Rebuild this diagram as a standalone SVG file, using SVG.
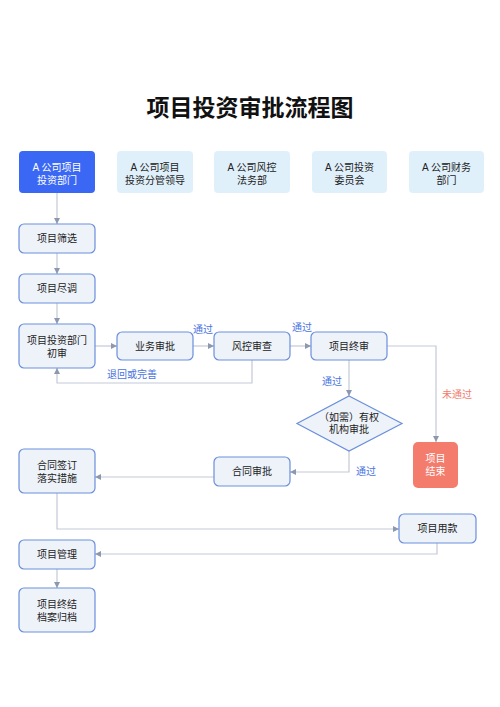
<svg xmlns="http://www.w3.org/2000/svg" width="500" height="707" viewBox="0 0 500 707">
<style>
text{font-family:"Liberation Sans","Noto Sans CJK SC",sans-serif;font-size:10px;fill:#222;text-anchor:middle}
.title{font-size:23px;font-weight:bold;fill:#111}
.node{fill:#eef3fa;stroke:#6b8fdb;stroke-width:1.2}
.hdr{fill:#e0f0fb}
.hdr1{fill:#3a68f5}
.wt{fill:#fff}
.end{fill:#f47c6d}
.lbl{fill:#4a74e0}
.lbl2{fill:#f07d6e}
.c{fill:none;stroke:#c3c9d6;stroke-width:1.2;marker-end:url(#ah)}
</style>
<defs>
<marker id="ah" viewBox="0 0 6 6" refX="6" refY="3" markerWidth="6" markerHeight="6" markerUnits="userSpaceOnUse" orient="auto">
<path d="M0,0 L6,3 L0,6 z" fill="#8d98ae"/>
</marker>
</defs>
<rect width="500" height="707" fill="#fff"/>
<text class="title" x="250" y="116">项目投资审批流程图</text>

<g id="connectors">
<path class="c" d="M57,193 V224"/>
<path class="c" d="M57,253 V274"/>
<path class="c" d="M57,303 V324"/>
<path class="c" d="M95,346 H117"/>
<path class="c" d="M193,346 H214"/>
<path class="c" d="M290,346 H311"/>
<path class="c" d="M252,360 V383 H57 V368"/>
<path class="c" d="M349,360 V396"/>
<path class="c" d="M387,346 H436 V442"/>
<path class="c" d="M349,451 V472 H290"/>
<path class="c" d="M214,477 H95"/>
<path class="c" d="M57,493 V529 H399"/>
<path class="c" d="M437,543 V554 H95"/>
<path class="c" d="M57,569 V588"/>
<text class="lbl" x="203" y="333">通过</text>
<text class="lbl" x="302" y="331">通过</text>
<text class="lbl" x="132" y="378">退回或完善</text>
<text class="lbl" x="332" y="385">通过</text>
<text class="lbl2" x="457" y="398">未通过</text>
<text class="lbl" x="366" y="475">通过</text>
</g>

<g id="h1"><rect class="hdr1" x="19" y="151" width="76" height="42" rx="4"/><text class="wt" x="57" y="171">A 公司项目</text><text class="wt" x="57" y="184">投资部门</text></g>
<g id="h2"><rect class="hdr" x="117" y="151" width="76" height="42" rx="4"/><text x="155" y="171">A 公司项目</text><text x="155" y="184">投资分管领导</text></g>
<g id="h3"><rect class="hdr" x="214" y="151" width="76" height="42" rx="4"/><text x="252" y="171">A 公司风控</text><text x="252" y="184">法务部</text></g>
<g id="h4"><rect class="hdr" x="312" y="151" width="75" height="42" rx="4"/><text x="349.5" y="171">A 公司投资</text><text x="349.5" y="184">委员会</text></g>
<g id="h5"><rect class="hdr" x="409" y="151" width="75" height="42" rx="4"/><text x="446.5" y="171">A 公司财务</text><text x="446.5" y="184">部门</text></g>

<g id="n1"><rect class="node" x="19" y="224" width="76" height="29" rx="5"/><text x="57" y="242">项目筛选</text></g>
<g id="n2"><rect class="node" x="19" y="274" width="76" height="29" rx="5"/><text x="57" y="292">项目尽调</text></g>
<g id="n3"><rect class="node" x="19" y="324" width="76" height="44" rx="5"/><text x="57" y="344">项目投资部门</text><text x="57" y="357">初审</text></g>
<g id="n4"><rect class="node" x="117" y="332" width="76" height="28" rx="5"/><text x="155" y="350">业务审批</text></g>
<g id="n5"><rect class="node" x="214" y="332" width="76" height="28" rx="5"/><text x="252" y="350">风控审查</text></g>
<g id="n6"><rect class="node" x="311" y="332" width="76" height="28" rx="5"/><text x="349" y="350">项目终审</text></g>
<g id="n7"><polygon class="node" points="349,396 402,423.5 349,451 297,423.5"/><text x="349" y="421">（如需）有权</text><text x="349" y="433">机构审批</text></g>
<g id="n8"><rect class="end" x="413" y="442" width="45" height="46" rx="5"/><text class="wt" x="435.5" y="462">项目</text><text class="wt" x="435.5" y="475">结束</text></g>
<g id="n9"><rect class="node" x="214" y="457" width="76" height="29" rx="5"/><text x="252" y="475">合同审批</text></g>
<g id="n10"><rect class="node" x="19" y="449" width="76" height="44" rx="5"/><text x="57" y="469">合同签订</text><text x="57" y="482">落实措施</text></g>
<g id="n11"><rect class="node" x="399" y="514" width="77" height="29" rx="5"/><text x="437.5" y="532">项目用款</text></g>
<g id="n12"><rect class="node" x="19" y="540" width="76" height="29" rx="5"/><text x="57" y="558">项目管理</text></g>
<g id="n13"><rect class="node" x="19" y="588" width="76" height="44" rx="5"/><text x="57" y="608">项目终结</text><text x="57" y="621">档案归档</text></g>
</svg>
